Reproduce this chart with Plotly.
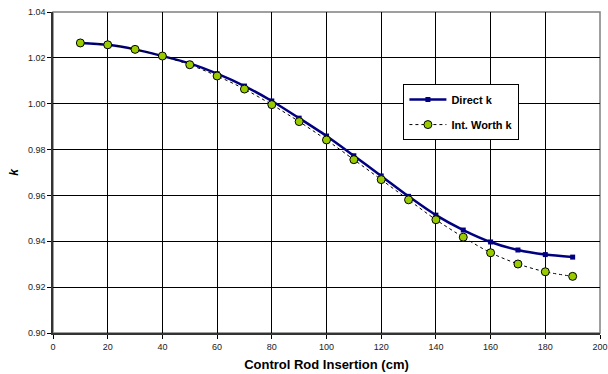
import plotly.graph_objects as go

insertion_cm = [10, 20, 30, 40, 50, 60, 70, 80, 90, 100, 110, 120, 130, 140, 150, 160, 170, 180, 190]
direct_k = [1.0265, 1.0257, 1.0237, 1.0208, 1.0176, 1.0131, 1.0077, 1.0012, 0.9937, 0.9859,
            0.9773, 0.9685, 0.9596, 0.9514, 0.9449, 0.9397, 0.9362, 0.9342, 0.9331]
int_worth_k = [1.0265, 1.0257, 1.0237, 1.0208, 1.0170, 1.0121, 1.0064, 0.9996, 0.9922, 0.9842,
               0.9756, 0.9669, 0.9581, 0.9494, 0.9418, 0.9350, 0.9301, 0.9267, 0.9247]

x_ticks = [0, 20, 40, 60, 80, 100, 120, 140, 160, 180, 200]
y_ticks = [0.90, 0.92, 0.94, 0.96, 0.98, 1.00, 1.02, 1.04]

FONT = "Liberation Sans, Arial, sans-serif"

fig = go.Figure()
fig.add_trace(go.Scatter(
    x=insertion_cm, y=direct_k, name="<b>Direct k</b>", mode="lines+markers",
    line=dict(color="#000080", width=2.5, shape="spline", smoothing=0.8),
    marker=dict(symbol="square", size=5, color="#000080"),
    legendgroup="a",
))
fig.add_trace(go.Scatter(
    x=insertion_cm, y=int_worth_k, name="<b>Int. Worth k</b>", mode="lines+markers",
    line=dict(color="#000000", width=1, dash="dot", shape="spline", smoothing=0.8),
    marker=dict(symbol="circle", size=8, color="#99CC00", line=dict(color="#000000", width=1)),
    legendgroup="b",
))

fig.add_shape(type="rect", xref="x domain", yref="y domain", x0=0, x1=1, y0=0, y1=1,
              line=dict(color="#808080", width=1.5), layer="below")

fig.update_layout(
    width=608, height=374,
    margin=dict(l=53, r=8, t=12, b=41, autoexpand=False),
    paper_bgcolor="white", plot_bgcolor="white",
    font=dict(family=FONT, size=9, color="#000"),
    showlegend=True,
    legend=dict(
        x=0.6406, y=0.7755, xanchor="left", yanchor="top",
        bordercolor="#000", borderwidth=1, bgcolor="white",
        font=dict(family=FONT, size=11, color="#000"),
        tracegroupgap=6, traceorder="grouped", itemwidth=37,
    ),
    xaxis=dict(
        range=[0, 200], tickvals=x_ticks, ticktext=[str(v) for v in x_ticks],
        automargin=False,
        showgrid=True, gridcolor="#000", gridwidth=1,
        showline=True, linecolor="#333", linewidth=1.5,
        ticks="outside", ticklen=4, tickcolor="#000",
        zeroline=False,
        tickfont=dict(family=FONT, size=9, color="#222"),
        title=dict(text="<b>Control Rod Insertion (cm)</b>", font=dict(family=FONT, size=13, color="#000"), standoff=9),
    ),
    yaxis=dict(
        range=[0.90, 1.04], tickvals=y_ticks, ticktext=[f"{v:.2f}" for v in y_ticks],
        automargin=False,
        showgrid=True, gridcolor="#000", gridwidth=1,
        showline=True, linecolor="#333", linewidth=1.5,
        ticks="outside", ticklen=4, tickcolor="#000",
        zeroline=False,
        tickfont=dict(family=FONT, size=9, color="#222"),
        title=dict(text="<b><i>k</i></b>", font=dict(family=FONT, size=12, color="#000"), standoff=7),
    ),
)

fig.write_html("out.html", config={"displayModeBar": False})

# remove the default page margin so the figure sits at the window's corner
with open("out.html", "r", encoding="utf-8") as f:
    html = f.read()
html = html.replace("<head>", "<head><style>html,body{margin:0;padding:0;overflow:hidden;}</style>", 1)
with open("out.html", "w", encoding="utf-8") as f:
    f.write(html)
